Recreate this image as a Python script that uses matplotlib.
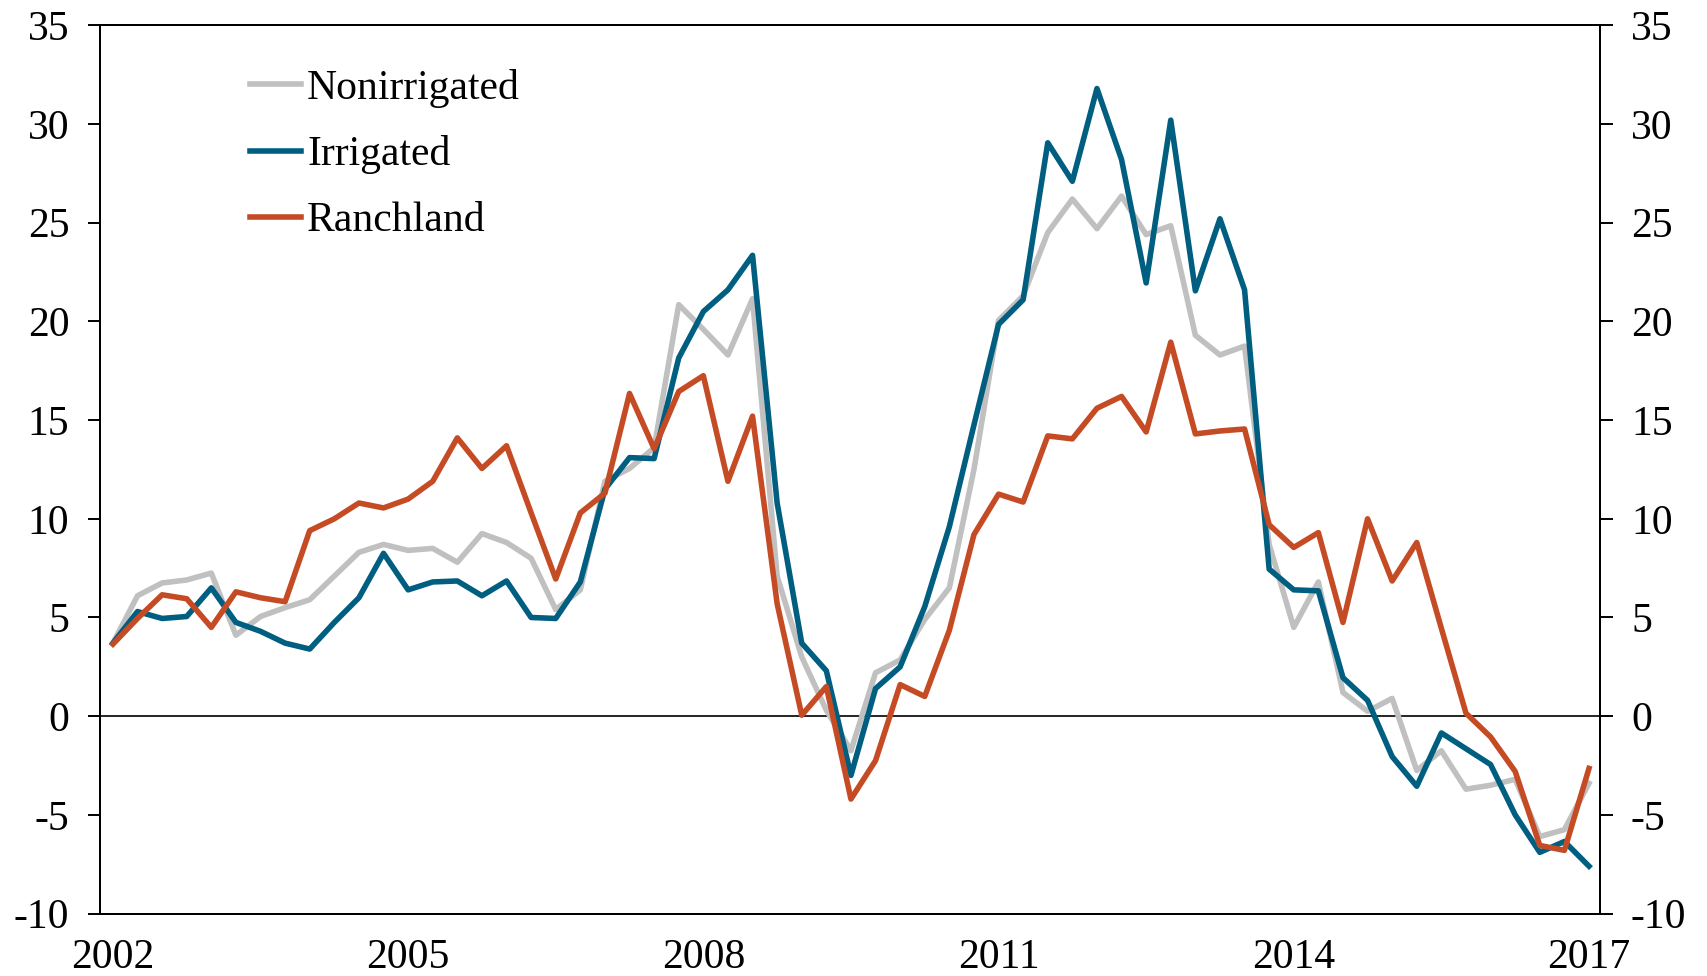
import numpy as np
import matplotlib
matplotlib.use("Agg")
import matplotlib.pyplot as plt

plt.rcParams["font.family"] = ["Liberation Serif", "DejaVu Serif"]
plt.rcParams["axes.unicode_minus"] = False

# quarterly, 2002Q1 .. 2017Q1
start_year = 2002
year_ticks = [2002, 2005, 2008, 2011, 2014, 2017]
y_ticks = [-10, -5, 0, 5, 10, 15, 20, 25, 30, 35]

nonirrigated = [
    3.7, 6.1, 6.75, 6.9, 7.25, 4.1, 5.05, 5.5, 5.9, 7.1,
    8.3, 8.7, 8.4, 8.5, 7.8, 9.25, 8.8, 8.0, 5.4, 6.4,
    11.9, 12.55, 13.6, 20.85, 19.6, 18.3, 21.15, 7.1, 3.0, 0.3,
    -1.75, 2.2, 2.85, 4.9, 6.5, 12.5, 20.05, 21.3, 24.5, 26.2,
    24.7, 26.35, 24.4, 24.85, 19.3, 18.3, 18.75, 8.7, 4.5, 6.8,
    1.2, 0.25, 0.9, -2.75, -1.75, -3.7, -3.5, -3.2, -6.1, -5.75,
    -3.4,
]
irrigated = [
    3.7, 5.3, 4.95, 5.05, 6.5, 4.75, 4.3, 3.7, 3.4, 4.75,
    6.0, 8.25, 6.4, 6.8, 6.85, 6.1, 6.85, 5.0, 4.95, 6.8,
    11.5, 13.1, 13.05, 18.15, 20.5, 21.6, 23.35, 10.8, 3.7, 2.3,
    -3.0, 1.4, 2.5, 5.55, 9.6, 14.75, 19.85, 21.1, 29.05, 27.1,
    31.8, 28.2, 21.95, 30.2, 21.55, 25.2, 21.6, 7.45, 6.4, 6.35,
    1.95, 0.8, -2.05, -3.55, -0.85, -1.65, -2.45, -5.0, -6.9, -6.35,
    -7.6,
]
ranchland = [
    3.65, 4.95, 6.15, 5.95, 4.5, 6.3, 6.0, 5.8, 9.4, 10.0,
    10.8, 10.55, 11.0, 11.9, 14.1, 12.55, 13.7, 10.3, 6.95, 10.3,
    11.3, 16.35, 13.55, 16.45, 17.25, 11.9, 15.2, 5.7, 0.05, 1.5,
    -4.2, -2.25, 1.6, 1.0, 4.35, 9.2, 11.25, 10.85, 14.2, 14.05,
    15.6, 16.2, 14.4, 18.95, 14.3, 14.45, 14.55, 9.7, 8.55, 9.3,
    4.75, 10.0, 6.85, 8.8, 4.45, 0.15, -1.05, -2.8, -6.55, -6.8,
    -2.65,
]

x = start_year + np.arange(len(irrigated)) / 4.0

fig = plt.figure(figsize=(17.08, 9.76), dpi=100)
ax = fig.add_axes([0.0585, 0.064, 0.8785, 0.910])

ax.axhline(0, color="black", lw=1.2, zorder=1)
ax.plot(x, nonirrigated, color="#C0C0C0", lw=4.0, label="Nonirrigated", zorder=2)
ax.plot(x, irrigated, color="#005E80", lw=4.0, label="Irrigated", zorder=3)
ax.plot(x, ranchland, color="#C54B24", lw=4.0, label="Ranchland", zorder=4)

ax.set_xlim(2001.868, 2017.116)
ax.set_ylim(-10, 35)
ax.set_xticks(year_ticks)
ax.set_xticklabels([str(y) for y in year_ticks])
ax.set_yticks(y_ticks)
ax.tick_params(axis="x", length=0, pad=18, labelsize=30)
ax.tick_params(axis="y", direction="out", length=9, width=1.4, labelsize=30, pad=13)
for s in ax.spines.values():
    s.set_linewidth(1.4)

ax2 = ax.twinx()
ax2.set_ylim(-10, 35)
ax2.set_yticks(y_ticks)
ax2.tick_params(axis="y", direction="out", length=9, width=1.4, labelsize=30, pad=13)
for s in ax2.spines.values():
    s.set_linewidth(1.4)

leg = ax.legend(loc="upper left", bbox_to_anchor=(0.1, 0.951), frameon=False,
                fontsize=30, handlelength=1.22, handletextpad=0.15,
                labelspacing=0.66, borderpad=0, borderaxespad=0)

fig.savefig("out.png", dpi=100)
